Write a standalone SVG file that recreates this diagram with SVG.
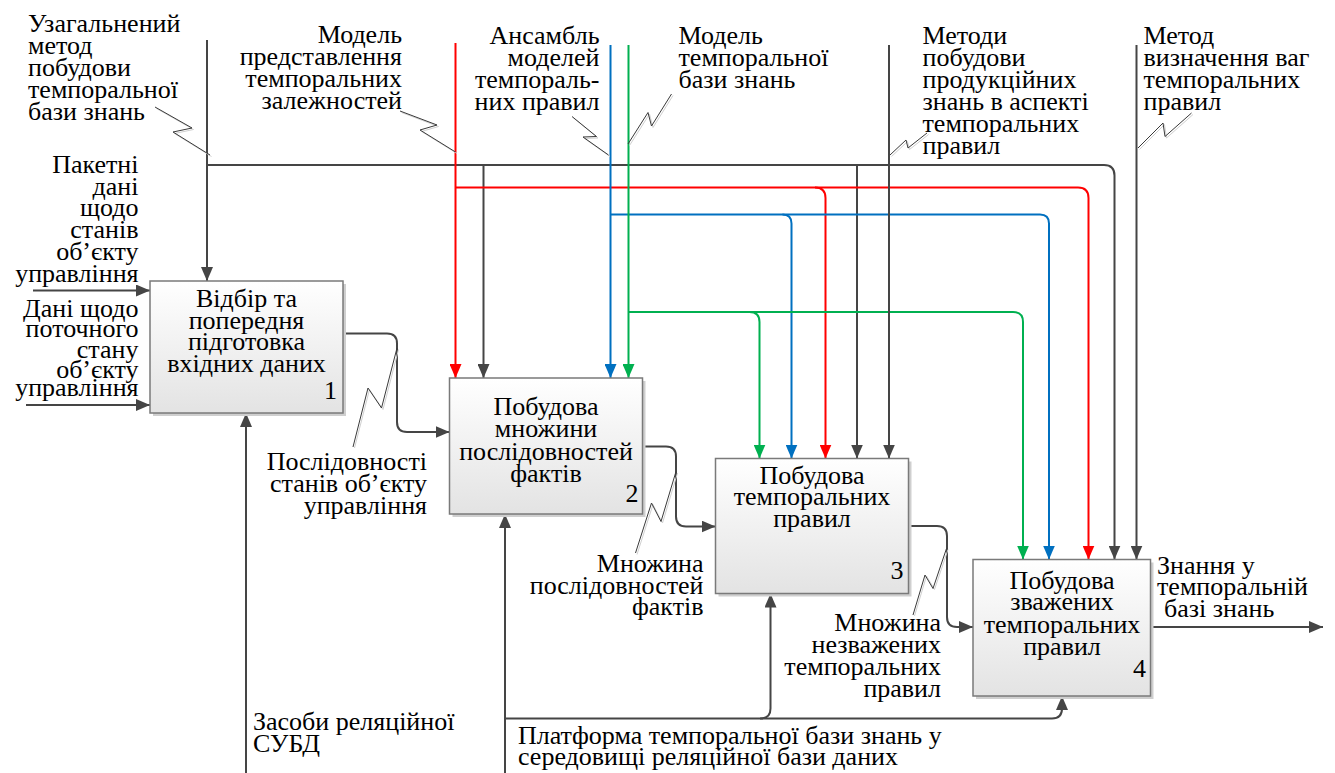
<svg xmlns="http://www.w3.org/2000/svg" width="1335" height="773" viewBox="0 0 1335 773">
<style>
.t{font-family:"Liberation Serif","DejaVu Serif",serif;font-size:26px;fill:#000}
.e{text-anchor:end}
.m{text-anchor:middle}
.box{fill:url(#g);stroke:#7a7a7a;stroke-width:1.5}
.sh{fill:#cfcfcf}
.k{fill:none;stroke:#454545;stroke-width:2}
.r{fill:none;stroke:#ff0000;stroke-width:2}
.b{fill:none;stroke:#0070c0;stroke-width:2}
.gr{fill:none;stroke:#00b050;stroke-width:2}
.sq{fill:none;stroke:#3a3a3a;stroke-width:1}
.sqs{fill:none;stroke:#d0d0d0;stroke-width:1}
</style>
<defs>
<linearGradient id="g" x1="0" y1="0" x2="0" y2="1">
<stop offset="0" stop-color="#ffffff"/>
<stop offset="1" stop-color="#e3e3e3"/>
</linearGradient>
<marker id="ak" markerUnits="userSpaceOnUse" markerWidth="14" markerHeight="12" refX="14" refY="6" orient="auto"><path d="M0,0 L14,6 L0,12 z" fill="#454545"/></marker>
<marker id="ar" markerUnits="userSpaceOnUse" markerWidth="14" markerHeight="12" refX="14" refY="6" orient="auto"><path d="M0,0 L14,6 L0,12 z" fill="#ff0000"/></marker>
<marker id="ab" markerUnits="userSpaceOnUse" markerWidth="14" markerHeight="12" refX="14" refY="6" orient="auto"><path d="M0,0 L14,6 L0,12 z" fill="#0070c0"/></marker>
<marker id="ag" markerUnits="userSpaceOnUse" markerWidth="14" markerHeight="12" refX="14" refY="6" orient="auto"><path d="M0,0 L14,6 L0,12 z" fill="#00b050"/></marker>
</defs>
<rect width="1335" height="773" fill="#ffffff"/>

<g id="connectors">
<path class="k" d="M207,40 V281" marker-end="url(#ak)"/>
<path class="k" d="M207,165 H1104 Q1114.5,165 1114.5,175.5 V559.5" marker-end="url(#ak)"/>
<path class="k" d="M483.5,165 V378" marker-end="url(#ak)"/>
<path class="k" d="M857,165 V458.5" marker-end="url(#ak)"/>
<path class="r" d="M455.5,43 V378" marker-end="url(#ar)"/>
<path class="r" d="M455.5,187.5 H1078 Q1088.5,187.5 1088.5,198 V559.5" marker-end="url(#ar)"/>
<path class="r" d="M815,187.5 Q825.5,187.5 825.5,198 V458.5" marker-end="url(#ar)"/>
<path class="b" d="M610.5,45 V378" marker-end="url(#ab)"/>
<path class="b" d="M610.5,214.5 H1040 Q1049,214.5 1049,223.5 V559.5" marker-end="url(#ab)"/>
<path class="b" d="M782.5,214.5 Q791.5,214.5 791.5,223.5 V458.5" marker-end="url(#ab)"/>
<path class="gr" d="M628.5,45 V378" marker-end="url(#ag)"/>
<path class="gr" d="M628.5,312 H1013 Q1023,312 1023,322 V559.5" marker-end="url(#ag)"/>
<path class="gr" d="M749.5,312 Q759.5,312 759.5,322 V458.5" marker-end="url(#ag)"/>
<path class="k" d="M889,45 V458.5" marker-end="url(#ak)"/>
<path class="k" d="M1136.5,45 V559.5" marker-end="url(#ak)"/>
<path class="k" d="M33,290.5 H150" marker-end="url(#ak)"/>
<path class="k" d="M26,405 H150" marker-end="url(#ak)"/>
<path class="k" d="M343,333.5 H387 Q397,333.5 397,343.5 V422 Q397,432 407,432 H449.5" marker-end="url(#ak)"/>
<path class="k" d="M642.5,446.5 H666 Q676,446.5 676,456.5 V516.5 Q676,526.5 686,526.5 H715.5" marker-end="url(#ak)"/>
<path class="k" d="M908.5,526 H937 Q947,526 947,536 V617 Q947,627 957,627 H973" marker-end="url(#ak)"/>
<path class="k" d="M1150.5,627 H1323" marker-end="url(#ak)"/>
<path class="k" d="M246,773 V413" marker-end="url(#ak)"/>
<path class="k" d="M505,773 V514" marker-end="url(#ak)"/>
<path class="k" d="M505,718.5 H760.5 Q770.5,718.5 770.5,708.5 V593.5" marker-end="url(#ak)"/>
<path class="k" d="M760,718.5 H1052 Q1062,718.5 1062,708.5 V696" marker-end="url(#ak)"/>
<polyline class="sqs" points="156.5,108.5 193.5,129.5 174.5,133.5 211.5,156.5"/>
<polyline class="sq" points="155,107 192,128 173,132 210,155"/>
<polyline class="sqs" points="401.5,112.5 438.5,126.5 421.5,131.5 457,153.5"/>
<polyline class="sq" points="400,111 437,125 420,130 455.5,152"/>
<polyline class="sqs" points="573.5,118 598,138 584.5,138.5 610,156.5"/>
<polyline class="sq" points="572,116.5 596.5,136.5 583,137 608.5,155"/>
<polyline class="sqs" points="673,95.5 653,127.5 649.5,114 629.5,145.5"/>
<polyline class="sq" points="671.5,94 651.5,126 648,112.5 628,144"/>
<polyline class="sqs" points="891.5,156.5 907.5,141.5 909.5,149.5 928.5,134.5"/>
<polyline class="sq" points="890,155 906,140 908,148 927,133"/>
<polyline class="sqs" points="1139.5,149.5 1164.5,124.5 1166.5,138 1193,114.5"/>
<polyline class="sq" points="1138,148 1163,123 1165,136.5 1191.5,113"/>
<polyline class="sqs" points="354.5,448 369.5,389.5 383,409.5 398.5,349.5"/>
<polyline class="sq" points="353,447 368,388 381.5,408 397,348"/>
<polyline class="sqs" points="637,554.5 653,504.5 662.5,523 677.5,473"/>
<polyline class="sq" points="635.5,553 651.5,503 661,521.5 676,471.5"/>
<polyline class="sqs" points="914.5,616 926.5,576 934.5,589.5 948,549.5"/>
<polyline class="sq" points="913,615 925,575 933,588.5 946.5,548.5"/>
</g>

<g id="node1">
<rect class="sh" x="153" y="284" width="193" height="132"/>
<rect class="box" x="150" y="281" width="193" height="132"/>
<text class="t m" x="246.5" y="306.5"><tspan x="246.5">Відбір та</tspan><tspan x="246.5" dy="22">попередня</tspan><tspan x="246.5" dy="21.5">підготовка</tspan><tspan x="246.5" dy="21.5">вхідних даних</tspan></text>
<text class="t e" x="337" y="398.5">1</text>
</g>

<g id="node2">
<rect class="sh" x="452.5" y="381" width="193" height="136"/>
<rect class="box" x="449.5" y="378" width="193" height="136"/>
<text class="t m" x="546" y="415"><tspan x="546">Побудова</tspan><tspan x="546" dy="22.3">множини</tspan><tspan x="546" dy="22.2">послідовностей</tspan><tspan x="546" dy="22">фактів</tspan></text>
<text class="t e" x="638.5" y="501.5">2</text>
</g>

<g id="node3">
<rect class="sh" x="718.5" y="461.5" width="193" height="135"/>
<rect class="box" x="715.5" y="458.5" width="193" height="135"/>
<text class="t m" x="812" y="483.5"><tspan x="812">Побудова</tspan><tspan x="812" dy="21.5">темпоральних</tspan><tspan x="812" dy="22">правил</tspan></text>
<text class="t e" x="903.5" y="578.5">3</text>
</g>

<g id="node4">
<rect class="sh" x="976" y="562.5" width="177.5" height="136.5"/>
<rect class="box" x="973" y="559.5" width="177.5" height="136.5"/>
<text class="t m" x="1062" y="588.5"><tspan x="1062">Побудова</tspan><tspan x="1062" dy="21.5">зважених</tspan><tspan x="1062" dy="22.5">темпоральних</tspan><tspan x="1062" dy="22.5">правил</tspan></text>
<text class="t e" x="1146" y="676.5">4</text>
</g>

<g id="labels">
<text class="t" x="28" y="32"><tspan x="28">Узагальнений</tspan><tspan x="28" dy="22">метод</tspan><tspan x="28" dy="22">побудови</tspan><tspan x="28" dy="22">темпоральної</tspan><tspan x="28" dy="22">бази знань</tspan></text>

<text class="t e" x="402" y="43"><tspan x="402">Модель</tspan><tspan x="402" dy="22">представлення</tspan><tspan x="402" dy="22">темпоральних</tspan><tspan x="402" dy="22">залежностей</tspan></text>

<text class="t e" x="599.5" y="44"><tspan x="599.5">Ансамбль</tspan><tspan x="599.5" dy="22">моделей</tspan><tspan x="599.5" dy="22">темпораль-</tspan><tspan x="599.5" dy="22">них правил</tspan></text>

<text class="t" x="678.5" y="43.5"><tspan x="678.5">Модель</tspan><tspan x="678.5" dy="22">темпоральної</tspan><tspan x="678.5" dy="22">бази знань</tspan></text>

<text class="t" x="922.5" y="43.5"><tspan x="922.5">Методи</tspan><tspan x="922.5" dy="22">побудови</tspan><tspan x="922.5" dy="22">продукційних</tspan><tspan x="922.5" dy="22">знань в аспекті</tspan><tspan x="922.5" dy="22">темпоральних</tspan><tspan x="922.5" dy="22">правил</tspan></text>

<text class="t" x="1143.5" y="43.5"><tspan x="1143.5">Метод</tspan><tspan x="1143.5" dy="22">визначення ваг</tspan><tspan x="1143.5" dy="22">темпоральних</tspan><tspan x="1143.5" dy="22">правил</tspan></text>

<text class="t e" x="138.5" y="172.5"><tspan x="138.5">Пакетні</tspan><tspan x="138.5" dy="22">дані</tspan><tspan x="138.5" dy="21.5">щодо</tspan><tspan x="138.5" dy="22">станів</tspan><tspan x="138.5" dy="22">об’єкту</tspan><tspan x="138.5" dy="21.5">управління</tspan></text>

<text class="t e" x="138.5" y="316.5"><tspan x="138.5">Дані щодо</tspan><tspan x="138.5" dy="20.5">поточного</tspan><tspan x="138.5" dy="20.5">стану</tspan><tspan x="138.5" dy="20">об’єкту</tspan><tspan x="138.5" dy="18.5">управління</tspan></text>

<text class="t e" x="427" y="470"><tspan x="427">Послідовності</tspan><tspan x="427" dy="21.5">станів об’єкту</tspan><tspan x="427" dy="22">управління</tspan></text>

<text class="t e" x="703.5" y="571.5"><tspan x="703.5">Множина</tspan><tspan x="703.5" dy="22">послідовностей</tspan><tspan x="703.5" dy="21.5">фактів</tspan></text>

<text class="t e" x="941" y="631"><tspan x="941">Множина</tspan><tspan x="941" dy="22">незважених</tspan><tspan x="941" dy="22">темпоральних</tspan><tspan x="941" dy="21.5">правил</tspan></text>

<text class="t" x="1157" y="573.5"><tspan x="1157">Знання у</tspan><tspan x="1157" dy="21.5">темпоральній</tspan><tspan x="1164" dy="21.5">базі знань</tspan></text>

<text class="t" x="253" y="729.5"><tspan x="253">Засоби реляційної</tspan><tspan x="253" dy="22">СУБД</tspan></text>

<text class="t" x="518" y="743.5"><tspan x="518">Платформа темпоральної бази знань у</tspan><tspan x="518" dy="21">середовищі реляційної бази даних</tspan></text>
</g>
</svg>
